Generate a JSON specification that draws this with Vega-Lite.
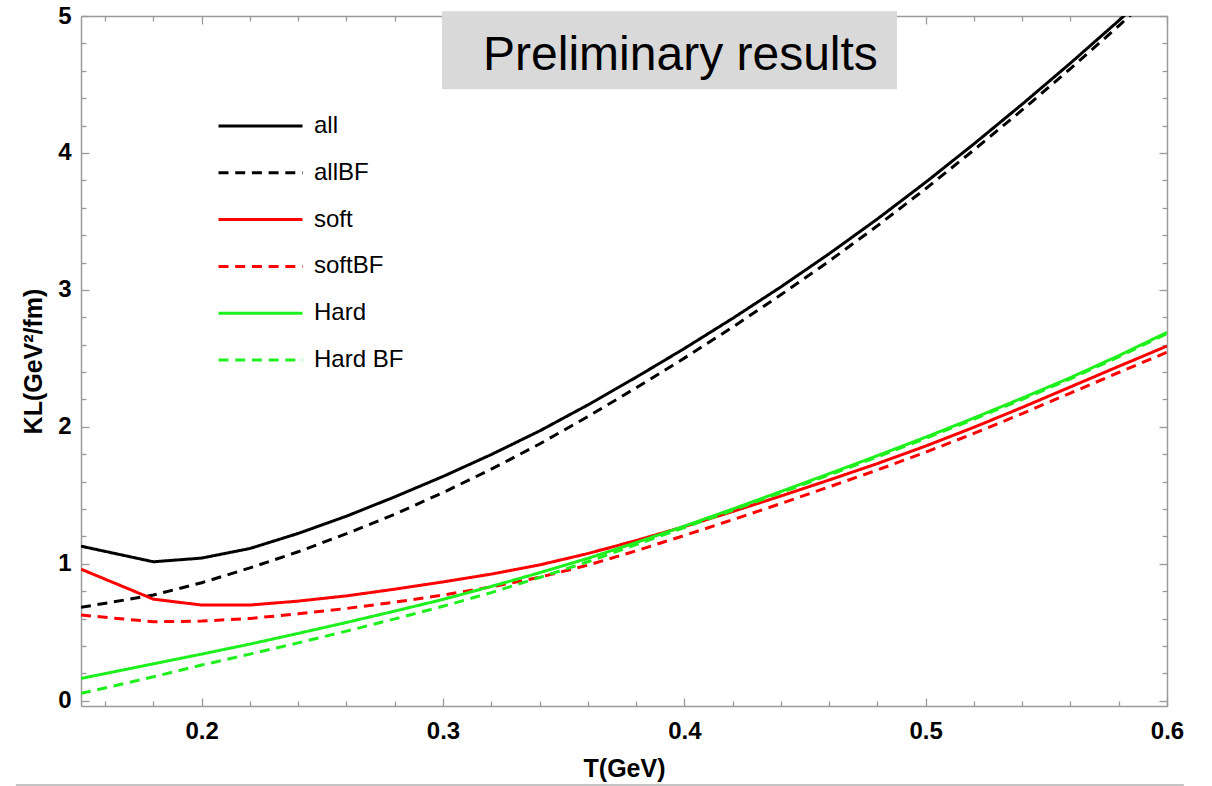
{
  "$schema": "https://vega.github.io/schema/vega-lite/v6.json",
  "width": 1086,
  "height": 690,
  "autosize": "none",
  "padding": {"left": 81, "top": 16, "right": 45, "bottom": 80},
  "background": "white",
  "config": {
    "view": {"stroke": null},
    "font": "Liberation Sans",
    "axis": {"grid": false, "tickColor": "#9a9a9a", "domainColor": "#9a9a9a", "domainWidth": 1.5, "tickWidth": 1.3, "labelFont": "Liberation Sans", "labelFontWeight": "bold", "labelFontSize": 24, "labelColor": "black", "titleFont": "Liberation Sans", "titleFontWeight": "bold", "titleFontSize": 25, "titleColor": "black", "labelFlush": false, "labelOverlap": false}
  },
  "datasets": {
    "curves": [
      {"series": "all", "T": 0.15, "KL": 1.129}, {"series": "all", "T": 0.18, "KL": 1.015}, {"series": "all", "T": 0.20, "KL": 1.042}, {"series": "all", "T": 0.22, "KL": 1.112}, {"series": "all", "T": 0.24, "KL": 1.222}, {"series": "all", "T": 0.26, "KL": 1.348}, {"series": "all", "T": 0.28, "KL": 1.489}, {"series": "all", "T": 0.30, "KL": 1.638}, {"series": "all", "T": 0.32, "KL": 1.798}, {"series": "all", "T": 0.34, "KL": 1.970}, {"series": "all", "T": 0.36, "KL": 2.160}, {"series": "all", "T": 0.38, "KL": 2.362}, {"series": "all", "T": 0.40, "KL": 2.572}, {"series": "all", "T": 0.42, "KL": 2.792}, {"series": "all", "T": 0.44, "KL": 3.022}, {"series": "all", "T": 0.46, "KL": 3.264}, {"series": "all", "T": 0.48, "KL": 3.518}, {"series": "all", "T": 0.50, "KL": 3.786}, {"series": "all", "T": 0.52, "KL": 4.066}, {"series": "all", "T": 0.54, "KL": 4.356}, {"series": "all", "T": 0.56, "KL": 4.656}, {"series": "all", "T": 0.58, "KL": 4.966}, {"series": "all", "T": 0.60, "KL": 5.286},
      {"series": "allBF", "T": 0.15, "KL": 0.682}, {"series": "allBF", "T": 0.18, "KL": 0.772}, {"series": "allBF", "T": 0.20, "KL": 0.862}, {"series": "allBF", "T": 0.22, "KL": 0.970}, {"series": "allBF", "T": 0.24, "KL": 1.088}, {"series": "allBF", "T": 0.26, "KL": 1.220}, {"series": "allBF", "T": 0.28, "KL": 1.362}, {"series": "allBF", "T": 0.30, "KL": 1.520}, {"series": "allBF", "T": 0.32, "KL": 1.691}, {"series": "allBF", "T": 0.34, "KL": 1.875}, {"series": "allBF", "T": 0.36, "KL": 2.075}, {"series": "allBF", "T": 0.38, "KL": 2.285}, {"series": "allBF", "T": 0.40, "KL": 2.502}, {"series": "allBF", "T": 0.42, "KL": 2.728}, {"series": "allBF", "T": 0.44, "KL": 2.964}, {"series": "allBF", "T": 0.46, "KL": 3.210}, {"series": "allBF", "T": 0.48, "KL": 3.468}, {"series": "allBF", "T": 0.50, "KL": 3.739}, {"series": "allBF", "T": 0.52, "KL": 4.022}, {"series": "allBF", "T": 0.54, "KL": 4.314}, {"series": "allBF", "T": 0.56, "KL": 4.616}, {"series": "allBF", "T": 0.58, "KL": 4.928}, {"series": "allBF", "T": 0.60, "KL": 5.250},
      {"series": "soft", "T": 0.15, "KL": 0.961}, {"series": "soft", "T": 0.18, "KL": 0.742}, {"series": "soft", "T": 0.20, "KL": 0.699}, {"series": "soft", "T": 0.22, "KL": 0.699}, {"series": "soft", "T": 0.24, "KL": 0.728}, {"series": "soft", "T": 0.26, "KL": 0.766}, {"series": "soft", "T": 0.28, "KL": 0.815}, {"series": "soft", "T": 0.30, "KL": 0.868}, {"series": "soft", "T": 0.32, "KL": 0.925}, {"series": "soft", "T": 0.34, "KL": 0.992}, {"series": "soft", "T": 0.36, "KL": 1.075}, {"series": "soft", "T": 0.38, "KL": 1.170}, {"series": "soft", "T": 0.40, "KL": 1.272}, {"series": "soft", "T": 0.42, "KL": 1.382}, {"series": "soft", "T": 0.44, "KL": 1.495}, {"series": "soft", "T": 0.46, "KL": 1.612}, {"series": "soft", "T": 0.48, "KL": 1.732}, {"series": "soft", "T": 0.50, "KL": 1.860}, {"series": "soft", "T": 0.52, "KL": 1.997}, {"series": "soft", "T": 0.54, "KL": 2.142}, {"series": "soft", "T": 0.56, "KL": 2.292}, {"series": "soft", "T": 0.58, "KL": 2.442}, {"series": "soft", "T": 0.60, "KL": 2.590},
      {"series": "softBF", "T": 0.15, "KL": 0.626}, {"series": "softBF", "T": 0.18, "KL": 0.577}, {"series": "softBF", "T": 0.20, "KL": 0.582}, {"series": "softBF", "T": 0.22, "KL": 0.601}, {"series": "softBF", "T": 0.24, "KL": 0.635}, {"series": "softBF", "T": 0.26, "KL": 0.674}, {"series": "softBF", "T": 0.28, "KL": 0.720}, {"series": "softBF", "T": 0.30, "KL": 0.772}, {"series": "softBF", "T": 0.32, "KL": 0.832}, {"series": "softBF", "T": 0.34, "KL": 0.902}, {"series": "softBF", "T": 0.36, "KL": 0.990}, {"series": "softBF", "T": 0.38, "KL": 1.095}, {"series": "softBF", "T": 0.40, "KL": 1.207}, {"series": "softBF", "T": 0.42, "KL": 1.322}, {"series": "softBF", "T": 0.44, "KL": 1.440}, {"series": "softBF", "T": 0.46, "KL": 1.562}, {"series": "softBF", "T": 0.48, "KL": 1.685}, {"series": "softBF", "T": 0.50, "KL": 1.815}, {"series": "softBF", "T": 0.52, "KL": 1.952}, {"series": "softBF", "T": 0.54, "KL": 2.097}, {"series": "softBF", "T": 0.56, "KL": 2.247}, {"series": "softBF", "T": 0.58, "KL": 2.397}, {"series": "softBF", "T": 0.60, "KL": 2.545},
      {"series": "Hard", "T": 0.15, "KL": 0.163}, {"series": "Hard", "T": 0.18, "KL": 0.270}, {"series": "Hard", "T": 0.20, "KL": 0.341}, {"series": "Hard", "T": 0.22, "KL": 0.414}, {"series": "Hard", "T": 0.24, "KL": 0.492}, {"series": "Hard", "T": 0.26, "KL": 0.572}, {"series": "Hard", "T": 0.28, "KL": 0.655}, {"series": "Hard", "T": 0.30, "KL": 0.740}, {"series": "Hard", "T": 0.32, "KL": 0.835}, {"series": "Hard", "T": 0.34, "KL": 0.935}, {"series": "Hard", "T": 0.36, "KL": 1.040}, {"series": "Hard", "T": 0.38, "KL": 1.155}, {"series": "Hard", "T": 0.40, "KL": 1.275}, {"series": "Hard", "T": 0.42, "KL": 1.400}, {"series": "Hard", "T": 0.44, "KL": 1.528}, {"series": "Hard", "T": 0.46, "KL": 1.658}, {"series": "Hard", "T": 0.48, "KL": 1.790}, {"series": "Hard", "T": 0.50, "KL": 1.925}, {"series": "Hard", "T": 0.52, "KL": 2.065}, {"series": "Hard", "T": 0.54, "KL": 2.210}, {"series": "Hard", "T": 0.56, "KL": 2.360}, {"series": "Hard", "T": 0.58, "KL": 2.520}, {"series": "Hard", "T": 0.60, "KL": 2.690},
      {"series": "Hard BF", "T": 0.15, "KL": 0.054}, {"series": "Hard BF", "T": 0.18, "KL": 0.175}, {"series": "Hard BF", "T": 0.20, "KL": 0.261}, {"series": "Hard BF", "T": 0.22, "KL": 0.341}, {"series": "Hard BF", "T": 0.24, "KL": 0.423}, {"series": "Hard BF", "T": 0.26, "KL": 0.509}, {"series": "Hard BF", "T": 0.28, "KL": 0.598}, {"series": "Hard BF", "T": 0.30, "KL": 0.690}, {"series": "Hard BF", "T": 0.32, "KL": 0.790}, {"series": "Hard BF", "T": 0.34, "KL": 0.900}, {"series": "Hard BF", "T": 0.36, "KL": 1.015}, {"series": "Hard BF", "T": 0.38, "KL": 1.140}, {"series": "Hard BF", "T": 0.40, "KL": 1.265}, {"series": "Hard BF", "T": 0.42, "KL": 1.391}, {"series": "Hard BF", "T": 0.44, "KL": 1.519}, {"series": "Hard BF", "T": 0.46, "KL": 1.649}, {"series": "Hard BF", "T": 0.48, "KL": 1.781}, {"series": "Hard BF", "T": 0.50, "KL": 1.916}, {"series": "Hard BF", "T": 0.52, "KL": 2.056}, {"series": "Hard BF", "T": 0.54, "KL": 2.201}, {"series": "Hard BF", "T": 0.56, "KL": 2.351}, {"series": "Hard BF", "T": 0.58, "KL": 2.511}, {"series": "Hard BF", "T": 0.60, "KL": 2.681}
    ]
  },
  "resolve": {"axis": {"x": "independent", "y": "independent"}},
  "layer": [
    {
      "data": {"values": [{}]},
      "mark": {"type": "rect", "color": "#d9d9d9"},
      "encoding": {
        "x": {"datum": 0.2996, "type": "quantitative", "axis": null},
        "x2": {"datum": 0.4881},
        "y": {"datum": 5.034, "type": "quantitative", "axis": null},
        "y2": {"datum": 4.465}
      }
    },
    {
      "data": {"values": [{}]},
      "mark": {"type": "text", "text": "Preliminary results", "font": "Liberation Sans", "fontSize": 48, "color": "black", "align": "center", "baseline": "alphabetic"},
      "encoding": {
        "x": {"datum": 0.3984, "type": "quantitative", "axis": null},
        "y": {"datum": 4.604, "type": "quantitative", "axis": null}
      }
    },
    {
      "data": {"values": [{}]},
      "mark": {"type": "rule", "color": "#c4c4c4", "strokeWidth": 2},
      "encoding": {
        "x": {"datum": 0.123, "type": "quantitative", "axis": null},
        "x2": {"datum": 0.607},
        "y": {"datum": -0.615, "type": "quantitative", "axis": null}
      }
    },
    {
      "data": {"name": "curves"},
      "mark": {"type": "line", "strokeWidth": 3, "clip": true, "interpolate": "linear"},
      "encoding": {
        "x": {"field": "T", "type": "quantitative", "scale": {"domain": [0.15, 0.6], "nice": false, "zero": false},
          "axis": {"orient": "bottom", "title": "T(GeV)", "values": [0.2, 0.3, 0.4, 0.5, 0.6], "format": ".1f", "tickSize": -8, "labelPadding": 21, "titlePadding": 13, "domain": true}},
        "y": {"field": "KL", "type": "quantitative", "scale": {"domain": [-0.038, 5], "nice": false, "zero": false},
          "axis": {"orient": "left", "title": "KL(GeV²/fm)", "values": [0, 1, 2, 3, 4, 5], "format": "d", "tickSize": -8, "labelPadding": 18, "titlePadding": 11, "domain": true}},
        "color": {"field": "series", "type": "nominal",
          "scale": {"domain": ["all", "allBF", "soft", "softBF", "Hard", "Hard BF"], "range": ["#000000", "#000000", "#ff0000", "#ff0000", "#1ef01e", "#1ef01e"]},
          "legend": {"orient": "none", "legendX": 136, "legendY": 98, "title": null, "symbolType": "stroke", "symbolSize": 7056, "symbolStrokeWidth": 3, "clipHeight": 24, "rowPadding": 22.8, "labelOffset": 10, "labelFont": "Liberation Sans", "labelFontSize": 24, "labelColor": "black", "padding": 0, "labelLimit": 300}},
        "strokeDash": {"field": "series", "type": "nominal",
          "scale": {"domain": ["all", "allBF", "soft", "softBF", "Hard", "Hard BF"], "range": [[1, 0], [10, 6.7], [1, 0], [10, 6.7], [1, 0], [10, 6.7]]},
          "legend": {"orient": "none", "legendX": 136, "legendY": 98, "title": null, "symbolType": "stroke", "symbolSize": 7056, "symbolStrokeWidth": 3, "clipHeight": 24, "rowPadding": 22.8, "labelOffset": 10, "labelFont": "Liberation Sans", "labelFontSize": 24, "labelColor": "black", "padding": 0, "labelLimit": 300}}
      }
    },
    {
      "data": {"name": "curves"},
      "mark": {"type": "point", "opacity": 0},
      "encoding": {
        "x": {"field": "T", "type": "quantitative",
          "axis": {"orient": "bottom", "title": null, "labels": false, "domain": false, "tickSize": -5, "values": [0.16, 0.18, 0.22, 0.24, 0.26, 0.28, 0.32, 0.34, 0.36, 0.38, 0.42, 0.44, 0.46, 0.48, 0.52, 0.54, 0.56, 0.58]}},
        "y": {"field": "KL", "type": "quantitative",
          "axis": {"orient": "left", "title": null, "labels": false, "domain": false, "tickSize": -5, "values": [0.2, 0.4, 0.6, 0.8, 1.2, 1.4, 1.6, 1.8, 2.2, 2.4, 2.6, 2.8, 3.2, 3.4, 3.6, 3.8, 4.2, 4.4, 4.6, 4.8]}}
      }
    },
    {
      "data": {"name": "curves"},
      "mark": {"type": "point", "opacity": 0},
      "encoding": {
        "x": {"field": "T", "type": "quantitative",
          "axis": {"orient": "top", "title": null, "labels": false, "domain": true, "tickSize": -8, "values": [0.2, 0.3, 0.4, 0.5, 0.6]}},
        "y": {"field": "KL", "type": "quantitative",
          "axis": {"orient": "right", "title": null, "labels": false, "domain": true, "tickSize": -8, "values": [0, 1, 2, 3, 4, 5]}}
      }
    },
    {
      "data": {"name": "curves"},
      "mark": {"type": "point", "opacity": 0},
      "encoding": {
        "x": {"field": "T", "type": "quantitative",
          "axis": {"orient": "top", "title": null, "labels": false, "domain": false, "tickSize": -5, "values": [0.16, 0.18, 0.22, 0.24, 0.26, 0.28, 0.32, 0.34, 0.36, 0.38, 0.42, 0.44, 0.46, 0.48, 0.52, 0.54, 0.56, 0.58]}},
        "y": {"field": "KL", "type": "quantitative",
          "axis": {"orient": "right", "title": null, "labels": false, "domain": false, "tickSize": -5, "values": [0.2, 0.4, 0.6, 0.8, 1.2, 1.4, 1.6, 1.8, 2.2, 2.4, 2.6, 2.8, 3.2, 3.4, 3.6, 3.8, 4.2, 4.4, 4.6, 4.8]}}
      }
    }
  ]
}
